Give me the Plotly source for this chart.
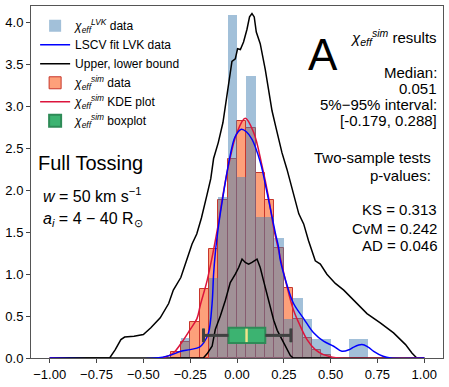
import numpy as np
import plotly.graph_objects as go

### Data -------------------------------------------------------

# histogram bins, width 0.05
bin_w = 0.05
lvk_centers = [-0.275, -0.125, -0.075, -0.025, 0.025, 0.075, 0.125, 0.175, 0.225,
               0.275, 0.325, 0.375, 0.425, 0.475, 0.625, 0.675]
lvk_density = [0.24, 0.96, 1.92, 4.09, 2.16, 3.36, 1.68, 1.68, 1.43,
               0.47, 0.72, 0.47, 0.23, 0.23, 0.23, 0.23]

sim_centers = [-0.325, -0.275, -0.225, -0.175, -0.125, -0.075, -0.025, 0.025, 0.075,
               0.125, 0.175, 0.225, 0.275, 0.325, 0.375, 0.425, 0.475]
sim_density = [0.07, 0.19, 0.43, 0.82, 1.30, 1.88, 2.38, 2.83, 2.75,
               2.21, 1.88, 1.31, 0.83, 0.47, 0.24, 0.10, 0.04]

# LSCV fit of LVK data
lscv_x = [-1.0, -0.43, -0.36, -0.30, -0.25, -0.20, -0.178, -0.152, -0.133, -0.125, -0.116,
          -0.107, -0.098, -0.071, -0.036, -0.01, 0.023, 0.05, 0.08, 0.124, 0.16, 0.204,
          0.222, 0.231, 0.267, 0.302, 0.356, 0.409, 0.462, 0.516, 0.56, 0.60, 0.623,
          0.667, 0.70, 0.73, 0.78, 0.82, 1.0]
lscv_y = [0, 0, 0.03, 0.08, 0.10, 0.13, 0.18, 0.30, 0.65, 1.0, 1.25,
          1.43, 1.59, 1.98, 2.42, 2.64, 2.73, 2.70, 2.61, 2.34, 1.98, 1.50,
          1.32, 1.17, 0.87, 0.65, 0.47, 0.30, 0.20, 0.14, 0.08, 0.10, 0.13,
          0.16, 0.13, 0.08, 0.02, 0, 0]

# KDE of sim data
kde_x = [-1.0, -0.40, -0.34, -0.30, -0.25, -0.214, -0.196, -0.16, -0.133, -0.116, -0.098,
         -0.08, -0.045, 0.0, 0.044, 0.089, 0.133, 0.169, 0.196, 0.231, 0.267, 0.302,
         0.338, 0.374, 0.418, 0.462, 0.51, 0.55, 1.0]
kde_y = [0, 0, 0.06, 0.17, 0.34, 0.47, 0.63, 0.92, 1.20, 1.40, 1.62,
         1.88, 2.30, 2.69, 2.86, 2.69, 2.30, 1.91, 1.55, 1.20, 0.85, 0.57,
         0.38, 0.22, 0.10, 0.04, 0.01, 0, 0]

# upper / lower bound
upper_x = [-1.0, -0.68, -0.65, -0.62, -0.60, -0.55, -0.50, -0.46, -0.41, -0.365, -0.34,
           -0.30, -0.27, -0.24, -0.215, -0.19, -0.16, -0.14, -0.125, -0.10, -0.075, -0.053,
           -0.04, -0.027, -0.009, 0.003, 0.018, 0.035, 0.053, 0.067, 0.08, 0.092, 0.103,
           0.124, 0.151, 0.169, 0.187, 0.21, 0.24, 0.267, 0.294, 0.311, 0.33, 0.356,
           0.382, 0.418, 0.445, 0.48, 0.525, 0.57, 0.623, 0.694, 0.765, 0.836, 0.90,
           0.934, 0.96, 1.0]
upper_y = [0, 0, 0.10, 0.22, 0.25, 0.26, 0.28, 0.36, 0.48, 0.65, 0.81,
           0.96, 1.16, 1.36, 1.48, 1.67, 1.95, 2.14, 2.38, 2.57, 2.81, 3.12,
           3.36, 3.54, 3.57, 3.69, 3.68, 3.77, 3.92, 4.07, 4.11, 4.07, 3.89,
           3.75, 3.44, 3.17, 2.95, 2.73, 2.45, 2.25, 2.03, 1.88, 1.72, 1.60,
           1.40, 1.16, 1.12, 1.00, 0.89, 0.81, 0.69, 0.53, 0.42, 0.30, 0.16,
           0.06, 0, 0]
lower_x = [-1.0, -0.18, -0.16, -0.133, -0.116, -0.089, -0.062, -0.036, -0.009, 0.009,
           0.027, 0.044, 0.062, 0.08, 0.107, 0.124, 0.142, 0.16, 0.178, 0.196, 0.215,
           0.231, 0.258, 0.285, 0.30, 1.0]
lower_y = [0, 0, 0.05, 0.14, 0.34, 0.50, 0.69, 0.90, 1.00, 1.08,
           1.18, 1.14, 1.12, 1.14, 1.18, 1.08, 0.92, 0.77, 0.60, 0.45, 0.33,
           0.26, 0.14, 0.03, 0, 0]

# boxplot stats (whiskers at 5% / 95%)
box_q1, box_med, box_q3 = -0.045, 0.051, 0.151
box_lo, box_hi = -0.179, 0.288
box_pos, box_w = 0.27, 0.18

ks, cvm, ad = 0.313, 0.242, 0.046

FONT = "Liberation Sans, Arial, sans-serif"
CHI_LVK = "<i>χ</i><sub><i>eff</i></sub><sup><i>LVK</i></sup>"
CHI_SIM = "<i>χ</i><sub><i>eff</i></sub><sup><i>sim</i></sup>"

### Figure ------------------------------------------------------

fig = go.Figure()

fig.add_trace(go.Bar(x=sim_centers, y=sim_density, width=bin_w, name=CHI_SIM + " data",
                     marker=dict(color="#fda07a", line=dict(color="#c8362c", width=1)),
                     legendrank=4))
fig.add_trace(go.Bar(x=lvk_centers, y=lvk_density, width=bin_w, name=CHI_LVK + " data",
                     marker=dict(color="rgba(70,130,180,0.5)", line=dict(width=0)),
                     legendrank=1))

fig.add_trace(go.Scatter(x=upper_x, y=upper_y, mode="lines", name="Upper, lower bound",
                         line=dict(color="black", width=1.5), legendgroup="bnd", legendrank=3))
fig.add_trace(go.Scatter(x=lower_x, y=lower_y, mode="lines", name="lower",
                         line=dict(color="black", width=1.5), legendgroup="bnd", showlegend=False))
fig.add_trace(go.Scatter(x=kde_x, y=kde_y, mode="lines", name=CHI_SIM + " KDE plot",
                         line=dict(color="crimson", width=1.5, shape="spline"), legendrank=5))
fig.add_trace(go.Scatter(x=lscv_x, y=lscv_y, mode="lines", name="LSCV fit LVK data",
                         line=dict(color="blue", width=1.5, shape="spline"), legendrank=2))

fig.add_trace(go.Box(orientation="h", y=[box_pos], q1=[box_q1], median=[box_med], q3=[box_q3],
                     lowerfence=[box_lo], upperfence=[box_hi], width=box_w, whiskerwidth=0.9,
                     fillcolor="mediumseagreen", line=dict(color="#2e8b57", width=2),
                     name=CHI_SIM + " boxplot", legendrank=6))
# grey whiskers and caps, khaki median
cap = box_w * 0.45
for xs, ys in [([box_lo, box_q1], [box_pos, box_pos]), ([box_q3, box_hi], [box_pos, box_pos]),
               ([box_lo, box_lo], [box_pos - cap, box_pos + cap]),
               ([box_hi, box_hi], [box_pos - cap, box_pos + cap])]:
    fig.add_trace(go.Scatter(x=xs, y=ys, mode="lines", line=dict(color="#404040", width=3),
                             showlegend=False))
fig.add_trace(go.Scatter(x=[box_med, box_med], y=[box_pos - box_w / 2 + 0.01, box_pos + box_w / 2 - 0.01],
                         mode="lines", line=dict(color="#f0e68c", width=2.5), showlegend=False))

### Text ---------------------------------------------------------

def ann(x, y, text, size=15, xa="right"):
    fig.add_annotation(x=x, y=y, xref="x", yref="y", text=text, showarrow=False,
                       xanchor=xa, yanchor="middle", font=dict(size=size, color="black"))

right = 1.076
ann(right, 3.83, CHI_SIM + " results")
ann(right, 3.41, "Median:")
ann(right, 3.22, "0.051")
ann(right, 3.03, "5%−95% interval:")
ann(right, 2.83, "[-0.179, 0.288]")
ann(1.044, 2.39, "Two-sample tests")
ann(1.044, 2.18, "p-values:")
ann(right, 1.77, "KS = %.3f" % ks)
ann(right, 1.55, "CvM = %.3f" % cvm)
ann(right, 1.34, "AD = %.3f" % ad)
ann(0.46, 3.62, "A", size=44, xa="center")
ann(-1.075, 2.33, "Full Tossing", size=20, xa="left")
ann(-1.045, 1.95, "<i>w</i> = 50 km s<sup>−1</sup>", size=16, xa="left")
ann(-1.045, 1.65, "<i>a<sub>i</sub></i> = 4 − 40 R<sub>⊙</sub>", size=16, xa="left")

fig.update_layout(
    width=449, height=387,
    margin=dict(l=31, r=6, t=5, b=25),
    plot_bgcolor="white", paper_bgcolor="white",
    barmode="overlay", bargap=0,
    font=dict(family=FONT, size=13, color="black"),
    legend=dict(x=0.01, y=0.985, xanchor="left", yanchor="top", font=dict(size=12),
                bgcolor="rgba(255,255,255,0)", itemwidth=30, tracegroupgap=0),
)
fig.update_xaxes(range=[-1.1, 1.1], tickvals=[-1, -0.75, -0.5, -0.25, 0, 0.25, 0.5, 0.75, 1],
                 tickformat=".2f", ticks="outside", ticklen=4, showgrid=False, zeroline=False,
                 showline=True, linecolor="#555", mirror=True)
fig.update_yaxes(range=[0, 4.2], dtick=0.5, tickformat=".1f", ticks="outside", ticklen=4,
                 showgrid=False, zeroline=False, showline=True, linecolor="#555", mirror=True)

# page has a default body margin; drop it so the figure sits at the corner
fig.write_html("out.html", config={"displayModeBar": False},
               post_script="document.body.style.margin='0';")
